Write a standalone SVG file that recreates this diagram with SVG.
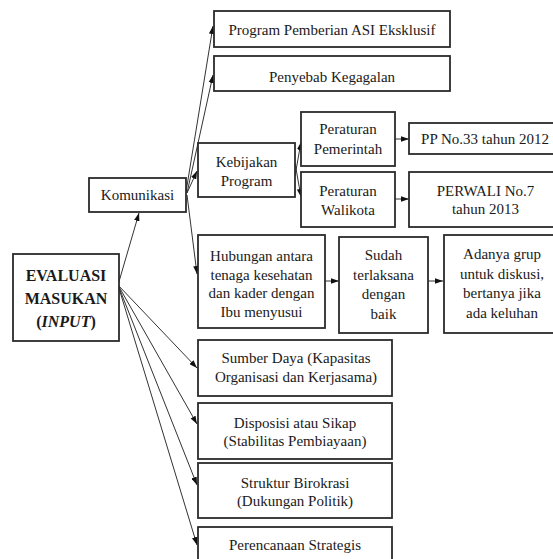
<svg xmlns="http://www.w3.org/2000/svg" width="553" height="559" viewBox="0 0 553 559">
  <style>
    .box { fill: #ffffff; stroke: #2b2b2b; stroke-width: 1.8; }
    .t { font-family: "Liberation Serif", "Times New Roman", serif; font-size: 15px; fill: #1a1a1a; text-anchor: middle; }
    .tb { font-family: "Liberation Serif", "Times New Roman", serif; font-size: 16px; font-weight: bold; fill: #1a1a1a; text-anchor: middle; }
    .c { fill: none; stroke: #333333; stroke-width: 1; marker-end: url(#arrow); }
  </style>
  <defs>
    <marker id="arrow" viewBox="0 0 10 7" refX="10" refY="3.5" markerWidth="8" markerHeight="6" markerUnits="userSpaceOnUse" orient="auto">
      <path d="M0,0 L10,3.5 L0,7 z" fill="#111111"/>
    </marker>
  </defs>

  <!-- connectors -->
  <g id="connectors">
    <!-- from EVALUASI MASUKAN -->
    <line class="c" x1="118" y1="285" x2="139" y2="213"/>
    <line class="c" x1="118" y1="285" x2="197" y2="368"/>
    <line class="c" x1="118" y1="285" x2="197" y2="424"/>
    <line class="c" x1="118" y1="285" x2="197" y2="485"/>
    <line class="c" x1="118" y1="285" x2="197" y2="545"/>
    <!-- from Komunikasi -->
    <line class="c" x1="186" y1="192" x2="213" y2="26"/>
    <line class="c" x1="187" y1="193" x2="213" y2="75"/>
    <line class="c" x1="187" y1="193" x2="197" y2="171"/>
    <line class="c" x1="187" y1="195" x2="197" y2="274"/>
    <!-- from Kebijakan Program -->
    <line class="c" x1="295" y1="176" x2="301" y2="142"/>
    <line class="c" x1="295" y1="163" x2="301" y2="197"/>
    <!-- horizontal links -->
    <line class="c" x1="395" y1="139" x2="409" y2="139"/>
    <line class="c" x1="395" y1="199" x2="409" y2="199"/>
    <line class="c" x1="325" y1="281" x2="339" y2="281"/>
    <line class="c" x1="428" y1="281" x2="443" y2="281"/>
  </g>

  <g id="evaluasi">
    <rect class="box" x="13" y="254" width="106" height="87"/>
    <text class="tb" x="66" y="281">EVALUASI</text>
    <text class="tb" x="66" y="304">MASUKAN</text>
    <text class="tb" x="66" y="327">(<tspan font-style="italic">INPUT</tspan>)</text>
  </g>

  <g id="komunikasi">
    <rect class="box" x="89" y="178" width="97" height="34"/>
    <text class="t" x="137.5" y="200">Komunikasi</text>
  </g>

  <g id="program-asi">
    <rect class="box" x="214" y="11" width="236" height="36"/>
    <text class="t" x="332" y="35">Program Pemberian ASI Eksklusif</text>
  </g>

  <g id="penyebab">
    <rect class="box" x="214" y="56" width="236" height="35"/>
    <text class="t" x="332" y="82">Penyebab Kegagalan</text>
  </g>

  <g id="kebijakan">
    <rect class="box" x="198" y="143" width="97" height="54"/>
    <text class="t" x="246.5" y="167">Kebijakan</text>
    <text class="t" x="246.5" y="186">Program</text>
  </g>

  <g id="peraturan-pemerintah">
    <rect class="box" x="301" y="112" width="94" height="54"/>
    <text class="t" x="348" y="134">Peraturan</text>
    <text class="t" x="348" y="154">Pemerintah</text>
  </g>

  <g id="peraturan-walikota">
    <rect class="box" x="301" y="172" width="94" height="55"/>
    <text class="t" x="348" y="196">Peraturan</text>
    <text class="t" x="348" y="215">Walikota</text>
  </g>

  <g id="pp">
    <rect class="box" x="409" y="123" width="152" height="31"/>
    <text class="t" x="485" y="144">PP No.33 tahun 2012</text>
  </g>

  <g id="perwali">
    <rect class="box" x="409" y="172" width="152" height="55"/>
    <text class="t" x="485.5" y="196">PERWALI No.7</text>
    <text class="t" x="485.5" y="214">tahun 2013</text>
  </g>

  <g id="hubungan">
    <rect class="box" x="198" y="235" width="127" height="93"/>
    <text class="t" x="261.5" y="261">Hubungan antara</text>
    <text class="t" x="261.5" y="279.5">tenaga kesehatan</text>
    <text class="t" x="261.5" y="298">dan kader dengan</text>
    <text class="t" x="261.5" y="317">Ibu menyusui</text>
  </g>

  <g id="sudah">
    <rect class="box" x="339" y="237" width="89" height="96"/>
    <text class="t" x="383.5" y="260">Sudah</text>
    <text class="t" x="383.5" y="279.5">terlaksana</text>
    <text class="t" x="383.5" y="299">dengan</text>
    <text class="t" x="383.5" y="318.5">baik</text>
  </g>

  <g id="adanya">
    <rect class="box" x="444" y="235" width="117" height="98"/>
    <text class="t" x="502" y="259">Adanya grup</text>
    <text class="t" x="502" y="278.5">untuk diskusi,</text>
    <text class="t" x="502" y="298">bertanya jika</text>
    <text class="t" x="502" y="317.5">ada keluhan</text>
  </g>

  <g id="sumber-daya">
    <rect class="box" x="198" y="340" width="194" height="56"/>
    <text class="t" x="296" y="363">Sumber Daya (Kapasitas</text>
    <text class="t" x="296" y="382">Organisasi dan Kerjasama)</text>
  </g>

  <g id="disposisi">
    <rect class="box" x="198" y="403" width="194" height="56"/>
    <text class="t" x="295" y="427.5">Disposisi atau Sikap</text>
    <text class="t" x="295" y="446">(Stabilitas Pembiayaan)</text>
  </g>

  <g id="struktur">
    <rect class="box" x="198" y="463" width="194" height="55"/>
    <text class="t" x="295" y="488">Struktur Birokrasi</text>
    <text class="t" x="295" y="506">(Dukungan Politik)</text>
  </g>

  <g id="perencanaan">
    <rect class="box" x="198" y="527" width="194" height="50"/>
    <text class="t" x="295" y="550">Perencanaan Strategis</text>
  </g>
</svg>
